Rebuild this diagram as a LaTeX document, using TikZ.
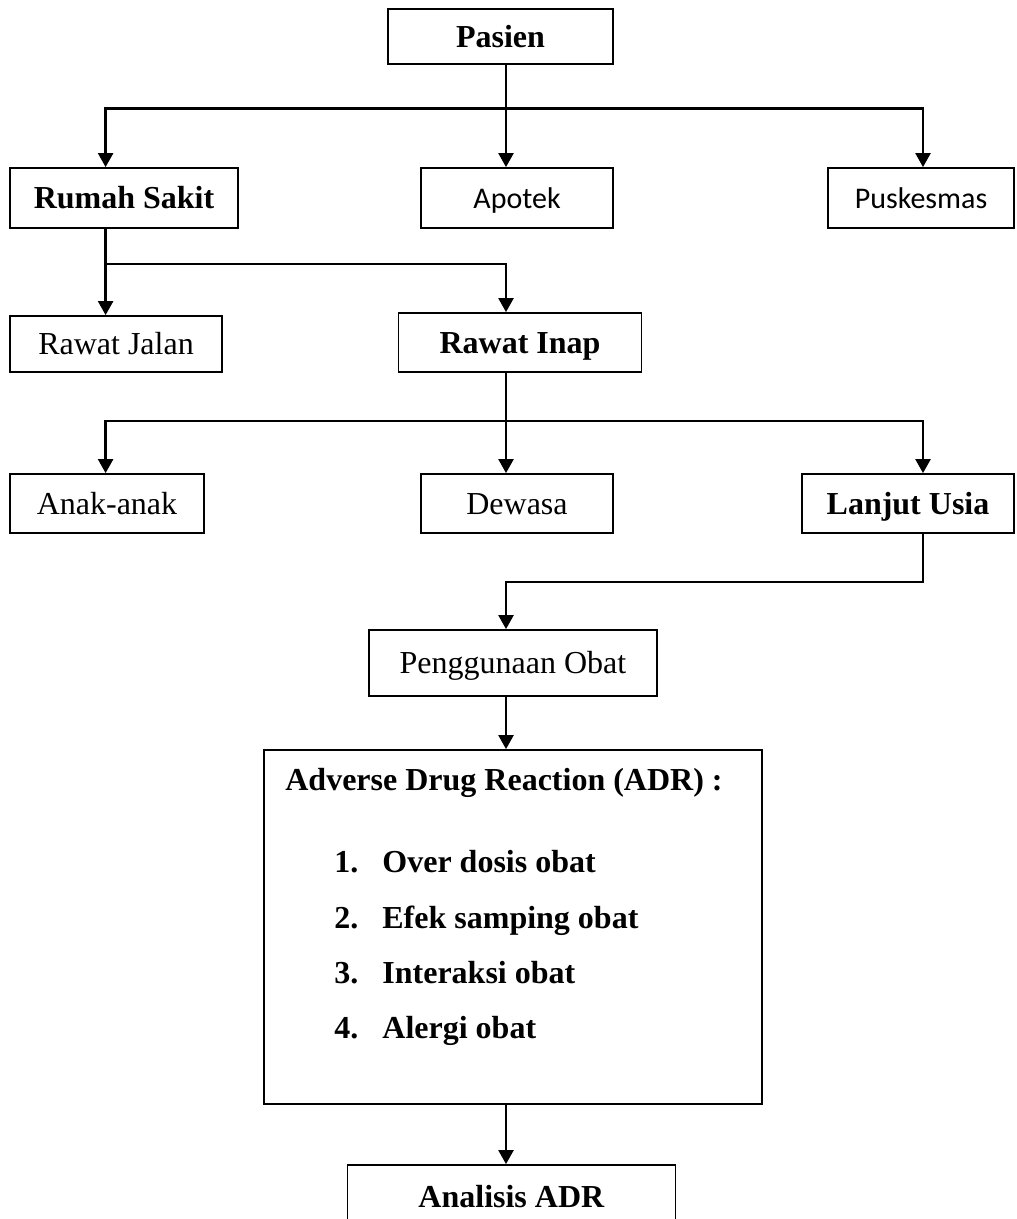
\documentclass[tikz,border=0pt]{standalone}
\usepackage{fontspec}
\setmainfont{Liberation Serif}
\newfontfamily\calibri{Carlito}
\usetikzlibrary{arrows.meta}
\tikzset{
	box/.style={rectangle, text=black, draw=black, line width=0.9pt, inner sep=0mm, text height=10.6pt, text depth=0pt, font=\fontsize{16}{19}\selectfont},
	arr/.style={-{Triangle[length=7pt, width=7.5pt]}, line width=1.2pt},
	item/.style={anchor=base west, font=\fontsize{16}{19}\selectfont\bfseries, inner sep=0mm}
}
\begin{document}
\begin{tikzpicture}[x=0.5pt, y=-0.5pt]
		\clip (0, 0) rectangle (1016, 1219);
		\node[box, minimum width=112.5pt, minimum height=27.5pt] (pasien) at (500.5, 36.5) {\textbf{Pasien}};
		\node[box, minimum width=114pt, minimum height=30pt] (rs) at (124, 198) {\textbf{Rumah Sakit}};
		\node[box, minimum width=96pt, minimum height=30pt, font=\fontsize{15}{18}\calibri] (apotek) at (517, 198) {Apotek};
		\node[box, minimum width=93pt, minimum height=30pt, font=\fontsize{15}{18}\calibri] (puskesmas) at (921, 198) {Puskesmas};
		\node[box, minimum width=106pt, minimum height=28pt] (rjalan) at (116, 344) {Rawat Jalan};
		\node[box, minimum width=121.5pt, minimum height=29.5pt] (rinap) at (520, 342.5) {\textbf{Rawat Inap}};
		\node[box, minimum width=97pt, minimum height=29.5pt] (anak) at (107, 503.5) {Anak-anak};
		\node[box, minimum width=96pt, minimum height=29.5pt] (dewasa) at (517, 503.5) {Dewasa};
		\node[box, minimum width=106pt, minimum height=29.5pt] (lanjut) at (908, 503.5) {\textbf{Lanjut Usia}};
		\node[box, minimum width=144pt, minimum height=33pt] (obat) at (513, 663) {Penggunaan Obat};
		\node[box, minimum width=248.7pt, minimum height=177pt] (adr) at (513, 927) {};
		\node[box, minimum width=164pt, minimum height=32pt] (analisis) at (511.5, 1197) {\textbf{Analisis ADR}};
		\node[item, anchor=base] (adrtitle) at (504, 790) {Adverse Drug Reaction (ADR) :};
		\node[item] (item1) at (334, 872) {\makebox[24pt][l]{1.}Over dosis obat};
		\node[item] (item2) at (334, 928) {\makebox[24pt][l]{2.}Efek samping obat};
		\node[item] (item3) at (334, 983) {\makebox[24pt][l]{3.}Interaksi obat};
		\node[item] (item4) at (334, 1038) {\makebox[24pt][l]{4.}Alergi obat};
		\coordinate (lcol) at (105.6, 0);
		\coordinate (mcol) at (506, 0);
		\coordinate (rcol) at (923, 0);
		\coordinate (j1) at (506, 108.7);
		\coordinate (j2) at (506, 264);
		\coordinate (j3) at (506, 421);
		\coordinate (j4) at (506, 582);
		\draw[arr] (pasien.south -| mcol) -- (apotek.north -| mcol);
		\draw[arr] (j1) -| (rs.north -| lcol);
		\draw[arr] (j1) -| (puskesmas.north -| rcol);
		\draw[arr] (rs.south -| lcol) -- (rjalan.north -| lcol);
		\draw[arr] (rs.south -| lcol) |- (j2) -- (rinap.north -| mcol);
		\draw[arr] (rinap.south -| mcol) -- (dewasa.north -| mcol);
		\draw[arr] (j3) -| (anak.north -| lcol);
		\draw[arr] (j3) -| (lanjut.north -| rcol);
		\draw[arr] (lanjut.south -| rcol) |- (j4) -- (obat.north -| mcol);
		\draw[arr] (obat.south -| mcol) -- (adr.north -| mcol);
		\draw[arr] (adr.south -| mcol) -- (analisis.north -| mcol);
	\end{tikzpicture}
\end{document}
